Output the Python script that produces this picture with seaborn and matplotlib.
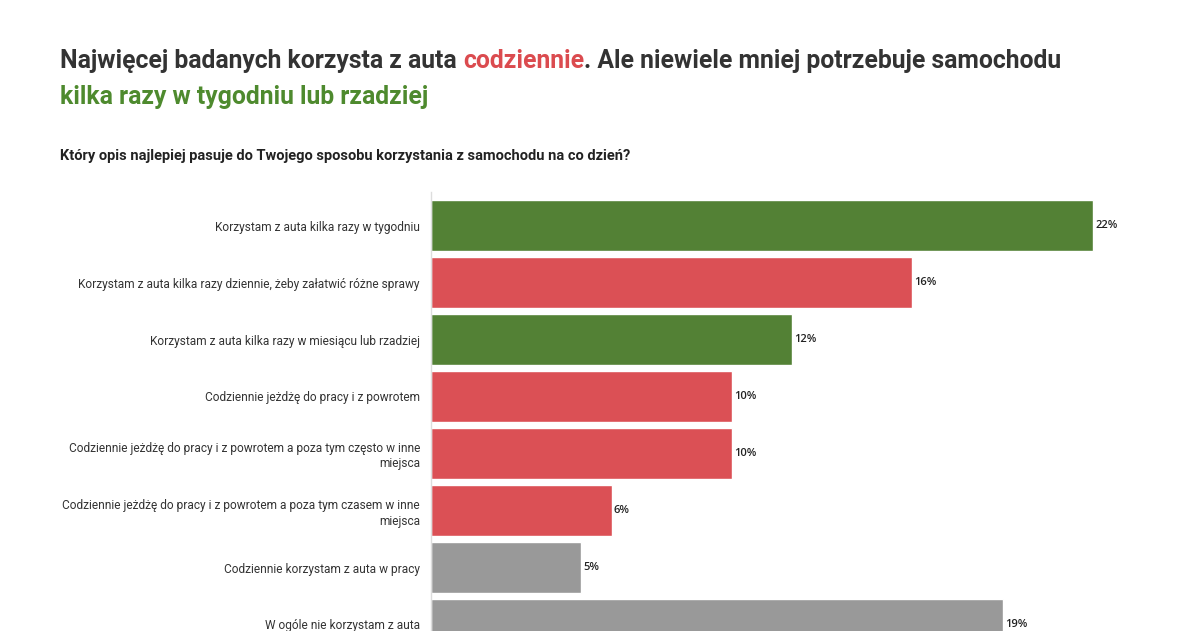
import matplotlib
matplotlib.use("Agg")
import matplotlib.pyplot as plt
import seaborn as sns
import pandas as pd

categories = [
    "Korzystam z auta kilka razy w tygodniu",
    "Korzystam z auta kilka razy dziennie, żeby załatwić różne sprawy",
    "Korzystam z auta kilka razy w miesiącu lub rzadziej",
    "Codziennie jeżdżę do pracy i z powrotem",
    "Codziennie jeżdżę do pracy i z powrotem a poza tym często w inne\nmiejsca",
    "Codziennie jeżdżę do pracy i z powrotem a poza tym czasem w inne\nmiejsca",
    "Codziennie korzystam z auta w pracy",
    "W ogóle nie korzystam z auta",
]
values = [22, 16, 12, 10, 10, 6, 5, 19]
groups = ["rzadziej", "codziennie", "rzadziej", "codziennie", "codziennie",
          "codziennie", "inne", "inne"]
group_colors = {"rzadziej": "#538135", "codziennie": "#DB5055", "inne": "#999999"}

title_parts_line1 = [
    ("Najwięcej badanych korzysta z auta ", "#333333"),
    ("codziennie", "#DB4B4F"),
    (". Ale niewiele mniej potrzebuje samochodu", "#333333"),
]
title_line2 = ("kilka razy w tygodniu lub rzadziej", "#4E8A2E")
subtitle = "Który opis najlepiej pasuje do Twojego sposobu korzystania z samochodu na co dzień?"

df = pd.DataFrame({"kategoria": categories, "wartosc": values, "grupa": groups})

sns.set_theme(style="white")
plt.rcParams["font.family"] = ["Roboto", "DejaVu Sans"]

W, H = 1198, 631
fig = plt.figure(figsize=(W / 100, H / 100), dpi=100)
fig.patch.set_facecolor("white")

ax_left, ax_right = 431, 1190
ax_top, ax_bottom = 192, 660
ax = fig.add_axes([ax_left / W, 1 - ax_bottom / H, (ax_right - ax_left) / W, (ax_bottom - ax_top) / H])

bar_colors = [group_colors[g] for g in groups]
sns.barplot(data=df, x="wartosc", y="kategoria", hue="kategoria", palette=bar_colors,
            legend=False, width=0.9, saturation=1, ax=ax, orient="h")

px_per_unit = (1093 - 431) / 22
ax.set_xlim(0, (ax_right - ax_left) / px_per_unit)
pitch = 57
ax.set_ylim(7 + (ax_bottom - (225.5 + 7 * pitch)) / pitch, -(225.5 - ax_top) / pitch)

for cont in ax.containers:
    ax.bar_label(cont, fmt="%d%%", padding=1.5, fontsize=8, color="#222222",
                 family=["Open Sans", "DejaVu Sans"], fontweight="semibold")

ax.set_xlabel("")
ax.set_ylabel("")
ax.set_xticks([])
ax.tick_params(axis="y", length=0, pad=8, labelsize=8.6, labelcolor="#333333")
for spine in ["top", "right", "bottom"]:
    ax.spines[spine].set_visible(False)
ax.spines["left"].set_color("#DDDDDD")
ax.spines["left"].set_linewidth(1)
for lbl in ax.get_yticklabels():
    lbl.set_horizontalalignment("right")
    lbl.set_linespacing(1.25)

# Title with coloured fragments
fig.canvas.draw()
renderer = fig.canvas.get_renderer()
x = 60 / W
y1 = 1 - 68 / H
for txt, col in title_parts_line1:
    t = fig.text(x, y1, txt, fontsize=17.85, color=col, fontweight="bold", va="baseline", ha="left")
    bb = t.get_window_extent(renderer=renderer)
    x = bb.x1 / W
fig.text(60 / W, 1 - 104 / H, title_line2[0], fontsize=17.85, color=title_line2[1],
         fontweight="bold", va="baseline", ha="left")
fig.text(60 / W, 1 - 160 / H, subtitle, fontsize=10.5, color="#222222", fontweight="bold",
         va="baseline", ha="left")

fig.savefig("out.png", dpi=100)
